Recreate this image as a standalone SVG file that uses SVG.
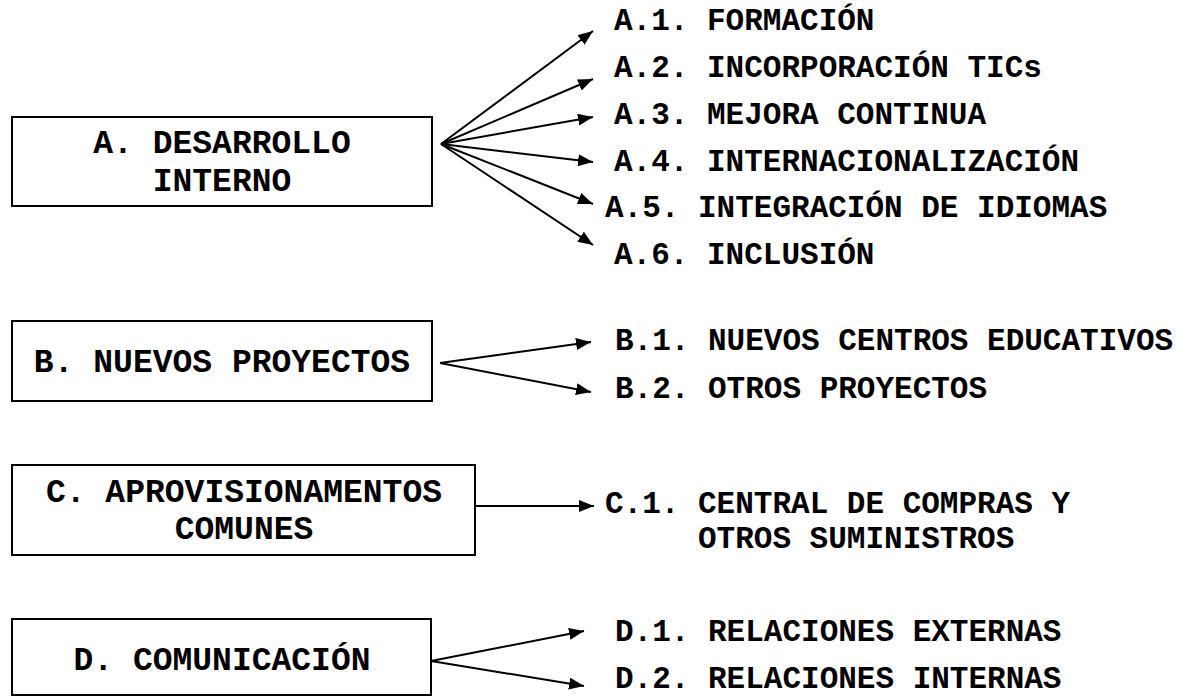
<svg xmlns="http://www.w3.org/2000/svg" width="1182" height="696" viewBox="0 0 1182 696">
<defs>
<style>
.box{fill:#fff;stroke:#000;stroke-width:2}
.bt{font-family:"Liberation Mono","Courier New",monospace;font-weight:bold;font-size:33px;fill:#000;text-anchor:middle}
.lt{font-family:"Liberation Mono","Courier New",monospace;font-weight:bold;font-size:31px;fill:#000}
.cn{stroke:#000;stroke-width:2;fill:none;marker-end:url(#ah)}
</style>
<marker id="ah" markerUnits="userSpaceOnUse" markerWidth="16" markerHeight="13" refX="15" refY="6" orient="auto">
<path d="M0,0 L15,6 L0,12 z" fill="#000"/>
</marker>
</defs>
<rect width="1182" height="696" fill="#fff"/>
<g id="nodeA">
<rect class="box" x="12" y="117" width="420" height="89"/>
<text class="bt" x="222" y="153">A. DESARROLLO</text>
<text class="bt" x="222" y="191">INTERNO</text>
</g>
<g id="nodeB">
<rect class="box" x="12" y="321" width="420" height="80"/>
<text class="bt" x="222" y="372">B. NUEVOS PROYECTOS</text>
</g>
<g id="nodeC">
<rect class="box" x="12" y="465" width="463" height="90"/>
<text class="bt" x="244" y="502">C. APROVISIONAMENTOS</text>
<text class="bt" x="244" y="539">COMUNES</text>
</g>
<g id="nodeD">
<rect class="box" x="12" y="619" width="419" height="76"/>
<text class="bt" x="222" y="670">D. COMUNICACIÓN</text>
</g>
<g id="leavesA">
<text class="lt" x="614" y="30">A.1. FORMACIÓN</text>
<text class="lt" x="614" y="77">A.2. INCORPORACIÓN TICs</text>
<text class="lt" x="614" y="124">A.3. MEJORA  CONTINUA</text>
<text class="lt" x="614" y="171">A.4. INTERNACIONALIZACIÓN</text>
<text class="lt" x="605" y="217">A.5. INTEGRACIÓN DE IDIOMAS</text>
<text class="lt" x="614" y="264">A.6. INCLUSIÓN</text>
</g>
<g id="leavesB">
<text class="lt" x="615" y="350">B.1. NUEVOS CENTROS EDUCATIVOS</text>
<text class="lt" x="615" y="398">B.2. OTROS PROYECTOS</text>
</g>
<g id="leavesC">
<text class="lt" x="605" y="513">C.1. CENTRAL DE COMPRAS Y</text>
<text class="lt" x="698" y="548">OTROS SUMINISTROS</text>
</g>
<g id="leavesD">
<text class="lt" x="615" y="641">D.1. RELACIONES EXTERNAS</text>
<text class="lt" x="615" y="688">D.2. RELACIONES INTERNAS</text>
</g>
<g id="connectors">
<line class="cn" x1="441" y1="144" x2="593" y2="31"/>
<line class="cn" x1="441" y1="144" x2="593" y2="79"/>
<line class="cn" x1="441" y1="144" x2="593" y2="117"/>
<line class="cn" x1="441" y1="144" x2="593" y2="162"/>
<line class="cn" x1="441" y1="144" x2="593" y2="204"/>
<line class="cn" x1="441" y1="144" x2="593" y2="245"/>
<line class="cn" x1="440" y1="363" x2="591" y2="342"/>
<line class="cn" x1="440" y1="363" x2="591" y2="392"/>
<line class="cn" x1="475" y1="506" x2="594" y2="506"/>
<line class="cn" x1="431" y1="661" x2="584" y2="631"/>
<line class="cn" x1="431" y1="661" x2="584" y2="686"/>
</g>
</svg>
